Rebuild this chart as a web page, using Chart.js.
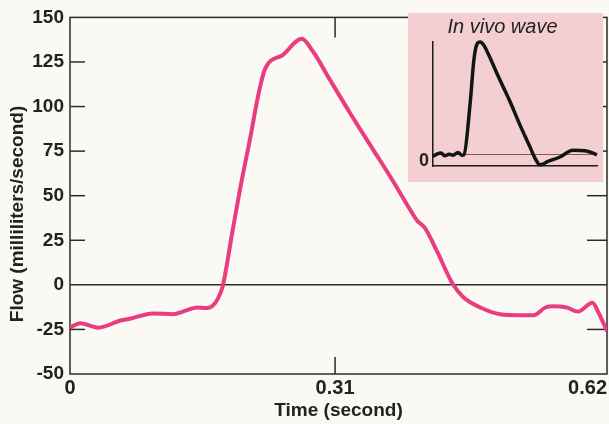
<!DOCTYPE html>
<html>
<head>
<meta charset="utf-8">
<script src="https://cdn.jsdelivr.net/npm/chart.js@4.4.1/dist/chart.umd.min.js"></script>
<style>
  html, body { margin: 0; padding: 0; background: #fbf9f3; }
  #wrap { position: relative; width: 609px; height: 424px; overflow: hidden; }
  #main { position: absolute; left: 0; top: 0; }
  #inset { position: absolute; left: 408px; top: 13px; background: #f3cfd2; }
</style>
</head>
<body>
<div id="wrap">
  <canvas id="main" width="609" height="424"></canvas>
  <canvas id="inset" width="195" height="169"></canvas>
</div>
<script>
// =========================
// DATA
// =========================
const timeSec = [0, 0.012, 0.033, 0.059, 0.070, 0.097, 0.121, 0.132, 0.149, 0.160, 0.170, 0.176,
  0.179, 0.190, 0.199, 0.211, 0.220, 0.228, 0.249, 0.271, 0.284, 0.304, 0.328, 0.353, 0.378,
  0.398, 0.406, 0.415, 0.429, 0.447, 0.460, 0.480, 0.503, 0.526, 0.542, 0.556, 0.565,
  0.581, 0.594, 0.611, 0.618, 0.628];
const flowMl = [-24, -21.5, -24, -20, -19, -16, -16.5, -15, -12.7, -13, -10, -4.5,
  0, 30, 54, 83, 106, 121, 129, 138, 131, 115, 96, 77, 58,
  42, 36, 32, 19, 1, -7, -12.7, -16.5, -17, -17, -12.7, -12,
  -12.7, -15, -10, -15.5, -26];

const xTickValues = [0, 0.31, 0.62];
const xTickLabels = ["0", "0.31", "0.62"];
const yTickValues = [150, 125, 100, 75, 50, 25, 0, -25, -50];

// inset: normalised time, flow in arbitrary units
const insetT = [0, 0.024, 0.049, 0.073, 0.098, 0.122, 0.152, 0.177, 0.189, 0.226, 0.250,
  0.268, 0.287, 0.311, 0.335, 0.409, 0.470, 0.530, 0.591, 0.622, 0.652, 0.701, 0.774,
  0.854, 0.927, 1.0];
const insetFlow = [-1.5, 0.5, 1.5, -1, 0.5, -0.5, 2, -0.5, 0, 45, 85,
  98, 100, 97, 90, 66, 47, 26.5, 7, -3, -9, -6, -2,
  4, 3.5, 0];

Chart.defaults.font.family = "'Liberation Sans', Arial, sans-serif";
Chart.defaults.color = "#222";

const INK = "#2b2b2b";

// =========================
// FRAME, TICKS, LABELS
// =========================
const mainFrame = {
  id: "mainFrame",
  beforeDatasetsDraw(chart) {
    const { ctx, chartArea: a, scales: { x, y } } = chart;
    const line = (x1, y1, x2, y2) => {
      ctx.beginPath(); ctx.moveTo(x1, y1); ctx.lineTo(x2, y2); ctx.stroke();
    };
    ctx.save();
    ctx.strokeStyle = INK;
    ctx.lineWidth = 1.5;
    ctx.strokeRect(a.left, a.top, a.right - a.left, a.bottom - a.top);
    const y0 = y.getPixelForValue(0);
    line(a.left, y0, a.right, y0);
    yTickValues.forEach(v => {
      if (v === 0 || v === 150 || v === -50) return;
      const py = y.getPixelForValue(v);
      line(a.left, py, a.left + 15, py);
      line(a.right - 20, py, a.right, py);
    });
    const pm = x.getPixelForValue(0.31);
    line(pm, a.top, pm, a.top + 20);
    line(pm, a.bottom - 17, pm, a.bottom);
    ctx.restore();
  },
  afterDraw(chart) {
    const { ctx, scales: { x } } = chart;
    ctx.save();
    ctx.fillStyle = "#222";
    ctx.font = "bold 20px 'Liberation Sans', Arial, sans-serif";
    ctx.textBaseline = "middle";
    xTickValues.forEach((v, i) => {
      let px = x.getPixelForValue(v);
      const w = ctx.measureText(xTickLabels[i]).width;
      if (px + w / 2 > chart.width - 2) px = chart.width - 2 - w / 2;
      ctx.textAlign = "center";
      ctx.fillText(xTickLabels[i], px, 388);
    });
    // y axis title
    ctx.translate(18, 214);
    ctx.rotate(-Math.PI / 2);
    ctx.font = "bold 19px 'Liberation Sans', Arial, sans-serif";
    ctx.textAlign = "center";
    ctx.fillText("Flow (milliliters/second)", 0, 0);
    ctx.restore();
  }
};

new Chart(document.getElementById("main"), {
  type: "line",
  data: {
    datasets: [{
      data: timeSec.map((t, i) => ({ x: t, y: flowMl[i] })),
      borderColor: "#ea3c80",
      borderWidth: 4,
      pointRadius: 0,
      cubicInterpolationMode: "monotone",
      fill: false
    }]
  },
  options: {
    responsive: false,
    animation: false,
    layout: { padding: { left: 0, right: 2, top: 12, bottom: 0 } },
    plugins: { legend: { display: false }, tooltip: { enabled: false } },
    scales: {
      x: {
        type: "linear",
        min: 0,
        max: 0.628,
        afterBuildTicks: s => { s.ticks = xTickValues.map(v => ({ value: v })); },
        afterFit: s => { s.height = 50; },
        ticks: { display: false },
        grid: { display: false },
        border: { display: false },
        title: {
          display: true,
          text: "Time (second)",
          font: { size: 19, weight: "bold" },
          padding: { top: 0, bottom: 2 }
        }
      },
      y: {
        min: -50,
        max: 150,
        afterBuildTicks: s => { s.ticks = yTickValues.map(v => ({ value: v })); },
        afterFit: s => { s.width = 70; },
        ticks: { font: { size: 19, weight: "bold" }, padding: 6 },
        grid: { display: false, drawTicks: false },
        border: { display: false }
      }
    }
  },
  plugins: [mainFrame]
});

// =========================
// INSET
// =========================
new Chart(document.getElementById("inset"), {
  type: "line",
  data: {
    datasets: [{
      data: insetT.map((t, i) => ({ x: t, y: insetFlow[i] })),
      borderColor: "#141414",
      borderWidth: 3.5,
      pointRadius: 0,
      cubicInterpolationMode: "monotone",
      clip: false,
      fill: false
    }]
  },
  options: {
    responsive: false,
    animation: false,
    layout: { padding: { left: 0, right: 6, top: 0, bottom: 0 } },
    plugins: {
      legend: { display: false },
      tooltip: { enabled: false },
      title: {
        display: true,
        text: "In vivo wave",
        color: "#222",
        font: { size: 20, style: "italic", weight: "normal", lineHeight: 1.1 },
        padding: { top: 3, bottom: 4 }
      }
    },
    scales: {
      x: {
        type: "linear",
        min: 0,
        max: 1,
        afterFit: s => { s.height = 16; },
        ticks: { display: false },
        grid: { display: false },
        border: { color: "#1a1a1a", width: 1.5 }
      },
      y: {
        min: -10,
        max: 100,
        afterBuildTicks: s => { s.ticks = [{ value: 0 }]; },
        afterFit: s => { s.width = 25; },
        ticks: { font: { size: 18, weight: "bold" }, padding: 4, labelOffset: 6, color: "#222" },
        grid: { color: "#8a5a3c", lineWidth: 1, drawTicks: false },
        border: { color: "#1a1a1a", width: 1.5 }
      }
    }
  }
});
</script>
</body>
</html>
